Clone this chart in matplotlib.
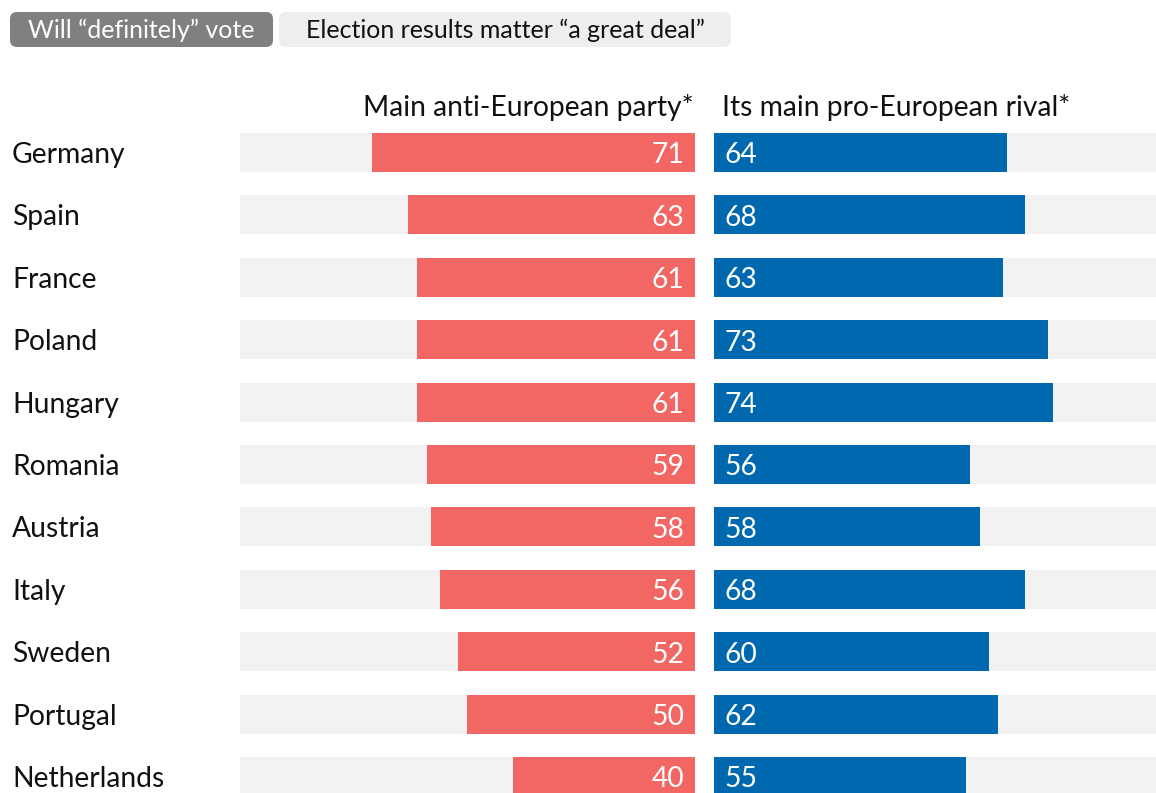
import matplotlib
matplotlib.use("Agg")
import matplotlib.pyplot as plt
from matplotlib.patches import FancyBboxPatch

countries = ["Germany", "Spain", "France", "Poland", "Hungary", "Romania",
             "Austria", "Italy", "Sweden", "Portugal", "Netherlands"]
anti_eu = [71, 63, 61, 61, 61, 59, 58, 56, 52, 50, 40]
pro_eu = [64, 68, 63, 73, 74, 56, 58, 68, 60, 62, 55]
header_left = "Main anti-European party*"
header_right = "Its main pro-European rival*"
buttons = ["Will \u201cdefinitely\u201d vote", "Election results matter \u201ca great deal\u201d"]

plt.rcParams['font.family'] = ['Lato', 'DejaVu Sans']

W, H = 1156, 793
fig = plt.figure(figsize=(W / 100, H / 100), dpi=100)

RED = "#F26764"
BLUE = "#0068AF"
BG = "#F2F2F2"

row_h = 62.4
top_px = 152.5 - row_h / 2
n = len(countries)
ax_h_px = row_h * n
bottom_frac = 1 - (top_px + ax_h_px) / H
h_frac = ax_h_px / H

axL = fig.add_axes([240 / W, bottom_frac, 455 / W, h_frac])
axR = fig.add_axes([714 / W, bottom_frac, 458 / W, h_frac])
bar_h = 0.625
ys = list(range(n))

for ax in (axL, axR):
    ax.set_ylim(n - 0.5, -0.5)
    ax.set_xlim(0, 100)
    ax.axis("off")
    ax.barh(ys, [100] * n, height=bar_h, color=BG, zorder=1)
axL.invert_xaxis()

axL.barh(ys, anti_eu, height=bar_h, color=RED, zorder=2)
axR.barh(ys, pro_eu, height=bar_h, color=BLUE, zorder=2)

fs = 20.3
num_off = 11 / row_h
for i, (a, p) in enumerate(zip(anti_eu, pro_eu)):
    axL.text(2.3, i + num_off, str(a), color="white", fontsize=fs, ha="right", va="baseline", zorder=3)
    axR.text(2.2, i + num_off, str(p), color="white", fontsize=fs, ha="left", va="baseline", zorder=3)

for i, c in enumerate(countries):
    y_px = 152.5 + i * row_h + 10.5
    fig.text(12 / W, 1 - y_px / H, c, fontsize=fs, ha="left", va="baseline", color="#111111")

fig.text(694 / W, 1 - 116 / H, header_left, fontsize=fs, ha="right", va="baseline", color="#111111")
fig.text(722 / W, 1 - 116 / H, header_right, fontsize=fs, ha="left", va="baseline", color="#111111")

# buttons
btns = [(10, 273, "#808080", "white"), (279, 731, "#EEEEEE", "#111111")]
for (x0, x1, fc, tc), label in zip(btns, buttons):
    y0, y1 = 12, 47
    patch = FancyBboxPatch((x0 / W, 1 - y1 / H), (x1 - x0) / W, (y1 - y0) / H,
                           boxstyle="round,pad=0,rounding_size=0.006",
                           transform=fig.transFigure, facecolor=fc, edgecolor="none",
                           mutation_aspect=W / H)
    fig.patches.append(patch)
    fig.text((x0 + x1) / 2 / W, 1 - 38 / H, label, fontsize=18,
             ha="center", va="baseline", color=tc)

fig.savefig("out.png", dpi=100)
